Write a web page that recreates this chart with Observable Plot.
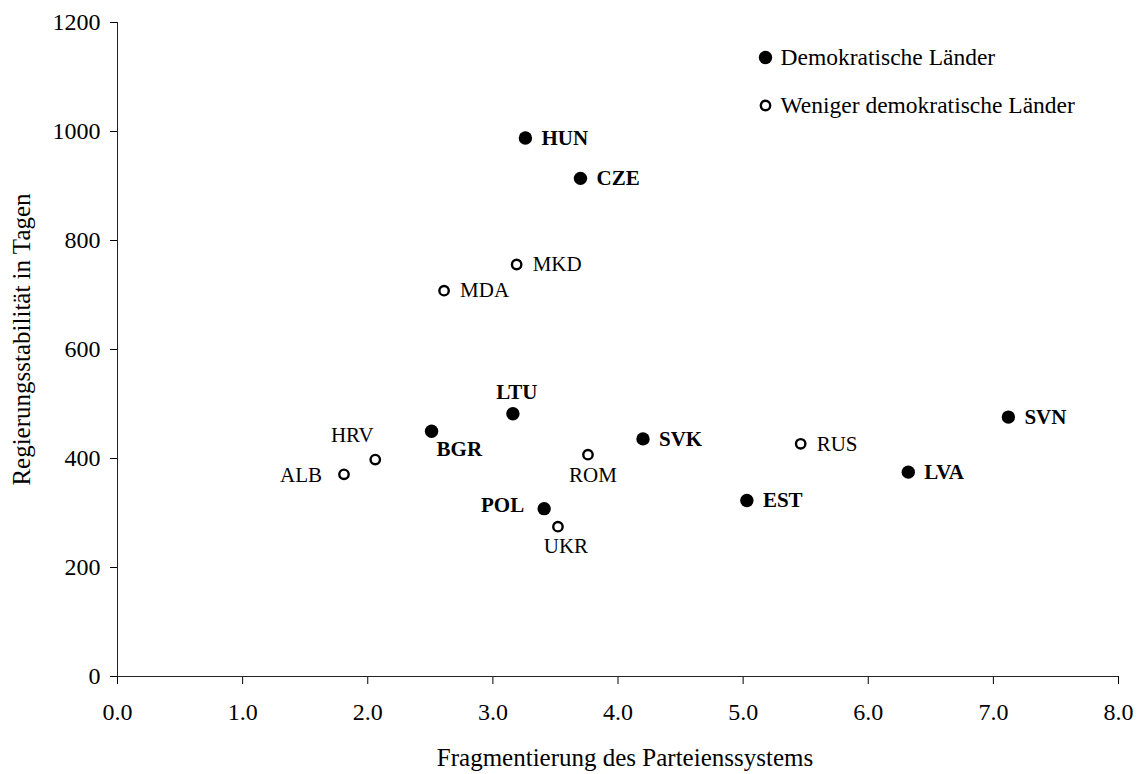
<!DOCTYPE html>
<html>
<head>
<meta charset="utf-8">
<script src="https://cdn.jsdelivr.net/npm/d3@7"></script>
<script src="https://cdn.jsdelivr.net/npm/@observablehq/plot@0.6"></script>
<style>
  body { margin: 0; background: #fff; }
  svg { display: block; }
</style>
</head>
<body>
<div id="chart"></div>
<script>
// ---- data ----
const countries     = ["HUN","CZE","MKD","MDA","LTU","BGR","HRV","ALB","ROM","POL","UKR","SVK","SVN","RUS","LVA","EST"];
const fragmentation = [3.26, 3.70, 3.19, 2.61, 3.16, 2.51, 2.06, 1.81, 3.76, 3.41, 3.52, 4.20, 7.12, 5.46, 6.32, 5.03];
const stability     = [988,  914,  756,  708,  482,  450,  398,  371,  407,  308,  275,  436,  476,  427,  375,  323];
const democratic    = [true, true, false,false,true, true, false,false,false,true, false,true, true, false,true, true];
const legendLabels  = ["Demokratische Länder", "Weniger demokratische Länder"];
const xTicks = [0, 1, 2, 3, 4, 5, 6, 7, 8];
const yTicks = [0, 200, 400, 600, 800, 1000, 1200];
const xTitle = "Fragmentierung des Parteienssystems";
const yTitle = "Regierungsstabilität in Tagen";

// ---- label placement (style) ----
const placement = {
  HUN: {anchor: "start", dx: 16, dy: 0},
  CZE: {anchor: "start", dx: 16, dy: 0},
  MKD: {anchor: "start", dx: 16, dy: 0},
  MDA: {anchor: "start", dx: 16, dy: 0},
  SVK: {anchor: "start", dx: 16, dy: 0},
  SVN: {anchor: "start", dx: 16, dy: 0},
  RUS: {anchor: "start", dx: 16, dy: 0},
  LVA: {anchor: "start", dx: 16, dy: 0},
  EST: {anchor: "start", dx: 16, dy: 0},
  POL: {anchor: "end", dx: -20, dy: -3},
  ALB: {anchor: "end", dx: -22, dy: 1},
  LTU: {anchor: "middle", dx: 4, dy: -22},
  BGR: {anchor: "start", dx: 5, dy: 18},
  HRV: {anchor: "middle", dx: -23, dy: -24},
  ROM: {anchor: "middle", dx: 5, dy: 21},
  UKR: {anchor: "middle", dx: 8, dy: 20}
};

const data = countries.map((c, i) => ({
  country: c, x: fragmentation[i], y: stability[i], dem: democratic[i]
}));

const font = "'Liberation Serif', 'Times New Roman', Times, serif";

const labelMarks = data.map(d => {
  const p = placement[d.country];
  return Plot.text([d], {
    x: "x", y: "y", text: "country",
    textAnchor: p.anchor, dx: p.dx, dy: p.dy,
    fontSize: 21, fontWeight: d.dem ? "bold" : "normal", fill: "#000"
  });
});

const chart = Plot.plot({
  width: 1139,
  height: 774,
  marginLeft: 117,
  marginRight: 21,
  marginTop: 22,
  marginBottom: 98,
  style: {fontFamily: font, fontSize: "24px", color: "#000", background: "#fff", overflow: "visible"},
  x: {domain: [0, 8], ticks: xTicks, tickFormat: d3.format(".1f"), tickSize: 8, tickPadding: 18, label: null},
  y: {domain: [0, 1200], ticks: yTicks, tickFormat: d => String(d), tickSize: 7, tickPadding: 10, label: null},
  marks: [
    Plot.ruleX([0], {stroke: "#222"}),
    Plot.ruleY([0], {stroke: "#222"}),
    Plot.dot(data.filter(d => d.dem), {x: "x", y: "y", r: 6.7, fill: "#000", stroke: "none"}),
    Plot.dot(data.filter(d => !d.dem), {x: "x", y: "y", r: 4.7, fill: "#fff", stroke: "#000", strokeWidth: 2.4}),
    ...labelMarks,
    // legend
    Plot.dot([legendLabels[0]], {frameAnchor: "top-left", dx: 648, dy: 35, r: 6.7, fill: "#000", stroke: "none"}),
    Plot.dot([legendLabels[1]], {frameAnchor: "top-left", dx: 648, dy: 83, r: 4.7, fill: "#fff", stroke: "#000", strokeWidth: 2.4}),
    Plot.text([legendLabels[0]], {frameAnchor: "top-left", dx: 663, dy: 35, text: d => d, textAnchor: "start", lineAnchor: "middle", fontSize: 23.5, fill: "#000"}),
    Plot.text([legendLabels[1]], {frameAnchor: "top-left", dx: 663, dy: 83, text: d => d, textAnchor: "start", lineAnchor: "middle", fontSize: 23.5, fill: "#000"}),
    // axis titles
    Plot.text([xTitle], {frameAnchor: "bottom", dx: 7, dy: 81, text: d => d, textAnchor: "middle", lineAnchor: "middle", fontSize: 25, fill: "#000"}),
    Plot.text([yTitle], {frameAnchor: "left", dx: -96, dy: -10, rotate: -90, text: d => d, textAnchor: "middle", lineAnchor: "middle", fontSize: 25, fill: "#000"})
  ]
});

document.getElementById("chart").appendChild(chart);
</script>
</body>
</html>
